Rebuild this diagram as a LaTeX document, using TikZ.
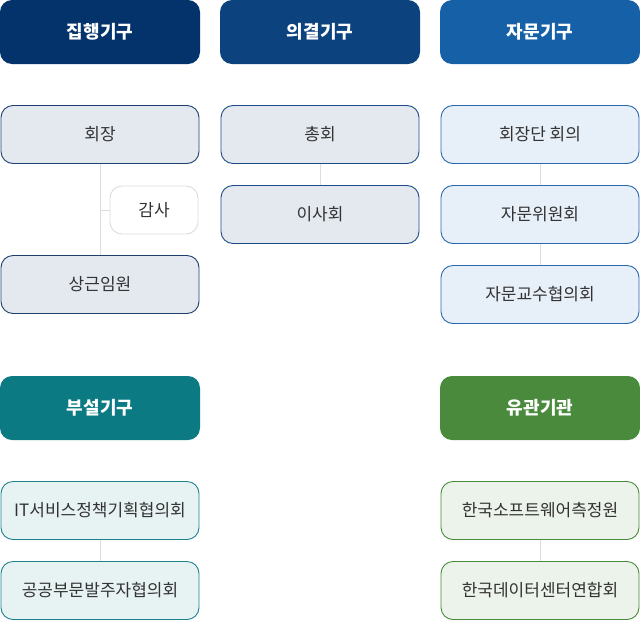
\documentclass[tikz,border=0pt]{standalone}
\usepackage{fontspec}
\setmainfont{Noto Sans CJK KR}
\definecolor{hA}{HTML}{03336A}
\definecolor{hB}{HTML}{0C437F}
\definecolor{hC}{HTML}{1660A8}
\definecolor{hD}{HTML}{0B7A83}
\definecolor{hE}{HTML}{4A8A3C}
\definecolor{fA}{HTML}{E4E9F0}
\definecolor{fC}{HTML}{E7EFF8}
\definecolor{fD}{HTML}{E7F2F3}
\definecolor{fE}{HTML}{ECF3EA}
\definecolor{bA}{HTML}{1E3F6D}
\definecolor{bB}{HTML}{1B4C8A}
\definecolor{bC}{HTML}{2A68B0}
\definecolor{bD}{HTML}{1C848C}
\definecolor{bE}{HTML}{4A8A3C}
\definecolor{txt}{HTML}{333333}
\definecolor{lnk}{HTML}{DDDDDD}
\begin{document}
\begin{tikzpicture}[x=1pt,y=-1pt,
  hdr/.style={rounded corners=12pt,minimum width=200pt,minimum height=64pt,inner sep=0pt,text=white,font=\fontsize{18}{20}\selectfont\bfseries},
  bx/.style={draw,line width=0.9pt,rounded corners=12pt,minimum width=198pt,minimum height=58pt,inner sep=0pt,text=txt,font=\fontsize{17}{19}\selectfont},
  lk/.style={draw=lnk,line width=0.8pt}]
\useasboundingbox (0,0) rectangle (640,622);
% headers
\node[hdr,fill=hA] (h1) at (100,32) {집행기구};
\node[hdr,fill=hB] (h2) at (320,32) {의결기구};
\node[hdr,fill=hC] (h3) at (540,32) {자문기구};
\node[hdr,fill=hD] (h4) at (100,408) {부설기구};
\node[hdr,fill=hE] (h5) at (540,408) {유관기관};
% column 1
\node[bx,fill=fA,draw=bA] (a1) at (100,134.5) {회장};
\node[bx,fill=white,draw=lnk,minimum width=88pt,minimum height=48pt] (a2) at (154,210) {감사};
\node[bx,fill=fA,draw=bA] (a3) at (100,284.5) {상근임원};
\coordinate (aj) at (100,210);
% column 2
\node[bx,fill=fA,draw=bB] (b1) at (320,134.5) {총회};
\node[bx,fill=fA,draw=bB] (b2) at (320,214.5) {이사회};
% column 3
\node[bx,fill=fC,draw=bC] (c1) at (540,134.5) {회장단 회의};
\node[bx,fill=fC,draw=bC] (c2) at (540,214.5) {자문위원회};
\node[bx,fill=fC,draw=bC] (c3) at (540,294.5) {자문교수협의회};
% bottom left
\node[bx,fill=fD,draw=bD] (d1) at (100,510.5) {IT서비스정책기획협의회};
\node[bx,fill=fD,draw=bD] (d2) at (100,590.5) {공공부문발주자협의회};
% bottom right
\node[bx,fill=fE,draw=bE] (e1) at (540,510.5) {한국소프트웨어측정원};
\node[bx,fill=fE,draw=bE] (e2) at (540,590.5) {한국데이터센터연합회};
% links
\draw[lk] (a1.south) -- (a3.north);
\draw[lk] (aj) -- (a2.west);
\draw[lk] (b1.south) -- (b2.north);
\draw[lk] (c1.south) -- (c2.north);
\draw[lk] (c2.south) -- (c3.north);
\draw[lk] (d1.south) -- (d2.north);
\draw[lk] (e1.south) -- (e2.north);
\end{tikzpicture}
\end{document}
